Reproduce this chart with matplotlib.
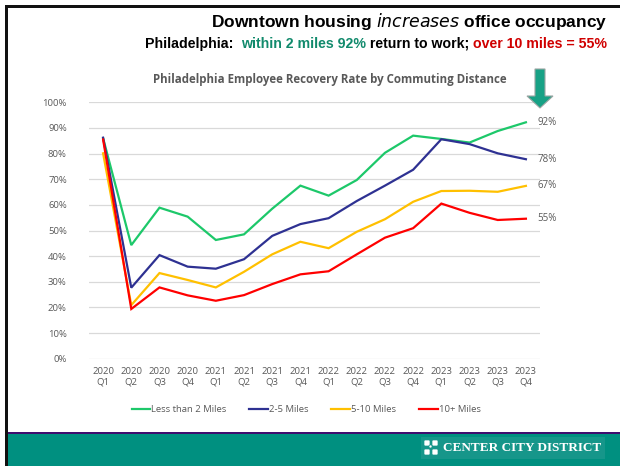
import matplotlib
matplotlib.use("Agg")
import matplotlib.pyplot as plt
from matplotlib.patches import Rectangle, FancyArrow, FancyBboxPatch
from matplotlib.ticker import FuncFormatter

# Quarterly employee recovery rate (% of pre-pandemic), by commuting distance
quarters = ["2020\nQ1", "2020\nQ2", "2020\nQ3", "2020\nQ4",
            "2021\nQ1", "2021\nQ2", "2021\nQ3", "2021\nQ4",
            "2022\nQ1", "2022\nQ2", "2022\nQ3", "2022\nQ4",
            "2023\nQ1", "2023\nQ2", "2023\nQ3", "2023\nQ4"]
less_than_2 = [86.0, 44.3, 58.9, 55.4, 46.3, 48.5, 58.5, 67.5,
               63.6, 69.7, 80.3, 87.0, 85.7, 84.3, 88.8, 92.2]
miles_2_5 = [86.2, 27.7, 40.4, 35.9, 35.1, 38.8, 47.9, 52.5,
             54.8, 61.5, 67.5, 73.7, 85.6, 83.7, 80.1, 77.8]
miles_5_10 = [80.1, 20.9, 33.4, 30.7, 27.8, 33.9, 40.7, 45.6,
              43.1, 49.5, 54.4, 61.2, 65.4, 65.5, 65.1, 67.4]
miles_10_plus = [85.5, 19.4, 27.8, 24.7, 22.6, 24.8, 29.1, 32.9,
                 34.1, 40.7, 47.2, 50.9, 60.5, 56.9, 54.1, 54.6]

series = [
    ("Less than 2 Miles", less_than_2, "#1DC86A"),
    ("2-5 Miles", miles_2_5, "#2E3192"),
    ("5-10 Miles", miles_5_10, "#FFC000"),
    ("10+ Miles", miles_10_plus, "#FF0000"),
]

W, H = 620, 466
fig = plt.figure(figsize=(W / 100, H / 100), dpi=100)
fig.patch.set_facecolor("white")
renderer = fig.canvas.get_renderer()

def fx(px):
    return px / W

def fy(py):
    return 1 - py / H

# Slide frame: black top/left rules, teal footer band with purple rule
fig.patches.append(Rectangle((fx(5), fy(8)), 1, 3 / H, transform=fig.transFigure,
                             facecolor="#111111", edgecolor="none", zorder=5))
fig.patches.append(Rectangle((fx(5), 0), 3 / W, fy(5), transform=fig.transFigure,
                             facecolor="#111111", edgecolor="none", zorder=5))
fig.patches.append(Rectangle((fx(8), 0), 1, fy(434), transform=fig.transFigure,
                             facecolor="#009080", edgecolor="none", zorder=1))
fig.patches.append(Rectangle((fx(8), fy(434)), 1, 2.5 / H, transform=fig.transFigure,
                             facecolor="#3F0D6E", edgecolor="none", zorder=2))

# Logo block
fig.patches.append(Rectangle((fx(421), fy(459)), 184 / W, 22 / H, transform=fig.transFigure,
                             facecolor="#16968A", edgecolor="none", zorder=2))
for (sx, sy, size) in [(424, 440, 6), (432, 440, 6), (424, 449, 6), (432, 449, 6),
                       (429, 445, 3)]:
    fig.patches.append(FancyBboxPatch((fx(sx), fy(sy + size)), size / W, size / H,
                                      boxstyle="round,pad=0,rounding_size=0.002",
                                      transform=fig.transFigure, facecolor="white",
                                      edgecolor="#16968A", linewidth=0.5, zorder=3))
logo = fig.text(fx(443), fy(448), "CENTER CITY DISTRICT", family="Liberation Serif",
                fontweight="bold", fontsize=10, color="white", va="center", ha="left",
                zorder=4)
lw = logo.get_window_extent(renderer).width
logo.set_fontsize(10 * 159 / lw)

# Headline
fig.text(fx(607), fy(22), "Downtown housing $\\it{increases}$ office occupancy",
         ha="right", va="center", fontsize=12.5, fontweight="bold",
         family="Liberation Sans", color="black")
sub_y = fy(44)
parts = [("Philadelphia:  ", "black"), ("within 2 miles 92%", "#118A6C"),
         (" return to work; ", "black"), ("over 10 miles = 55%", "#D00000")]
texts = []
for s, c in parts:
    t = fig.text(0, sub_y, s, ha="left", va="center", fontsize=10.2,
                 fontweight="bold", family="Liberation Sans", color=c)
    texts.append(t)
widths = [t.get_window_extent(renderer).width for t in texts]
x = 607 - sum(widths)
for t, w in zip(texts, widths):
    t.set_x(fx(x))
    x += w

# Chart title
fig.text(fx(330), fy(80), "Philadelphia Employee Recovery Rate by Commuting Distance",
         ha="center", va="center", fontsize=8.3, fontweight="bold",
         family="Open Sans", color="#595959")

# Down arrow marker
fig.patches.append(FancyArrow(fx(540), fy(69), 0, -(39 / H), width=10 / W,
                              head_width=26 / W, head_length=12 / H,
                              length_includes_head=True, transform=fig.transFigure,
                              facecolor="#17A185", edgecolor="#9AA5A2", linewidth=0.8,
                              zorder=6))

# Line chart
left, right, top, bottom = 89, 540, 102.3, 358.7
ax = fig.add_axes([fx(left), fy(bottom), (right - left) / W, (bottom - top) / H])
xs = list(range(len(quarters)))
for name, vals, color in series:
    ax.plot(xs, vals, color=color, linewidth=1.6, label=name, solid_joinstyle="miter")
    ax.annotate(f"{vals[-1]:.0f}%", xy=(xs[-1], vals[-1]), xytext=(8, 0),
                textcoords="offset points", va="center", ha="left",
                fontsize=7, color="#595959", family="Open Sans",
                annotation_clip=False)

ax.set_xlim(-0.5, len(quarters) - 0.5)
ax.set_ylim(0, 100)
ax.set_yticks(range(0, 101, 10))
ax.yaxis.set_major_formatter(FuncFormatter(lambda v, _: f"{v:.0f}%"))
ax.set_xticks(xs)
ax.set_xticklabels(quarters)
ax.tick_params(axis="both", length=0, labelsize=6.8, labelcolor="#595959")
ax.tick_params(axis="x", pad=6)
ax.tick_params(axis="y", pad=16)
for lbl in ax.get_xticklabels() + ax.get_yticklabels():
    lbl.set_family("Open Sans")
ax.grid(axis="y", color="#D9D9D9", linewidth=0.9)
ax.set_axisbelow(True)
for sp in ax.spines.values():
    sp.set_visible(False)
ax.set_facecolor("none")

leg = fig.legend(loc="center", bbox_to_anchor=(fx(306), fy(410)), ncol=4,
                 frameon=False, handlelength=2.0, handletextpad=0.1,
                 columnspacing=2.4, prop={"family": "Open Sans", "size": 6.8})
for t in leg.get_texts():
    t.set_color("#595959")

fig.savefig("out.png", dpi=100, facecolor="white")
